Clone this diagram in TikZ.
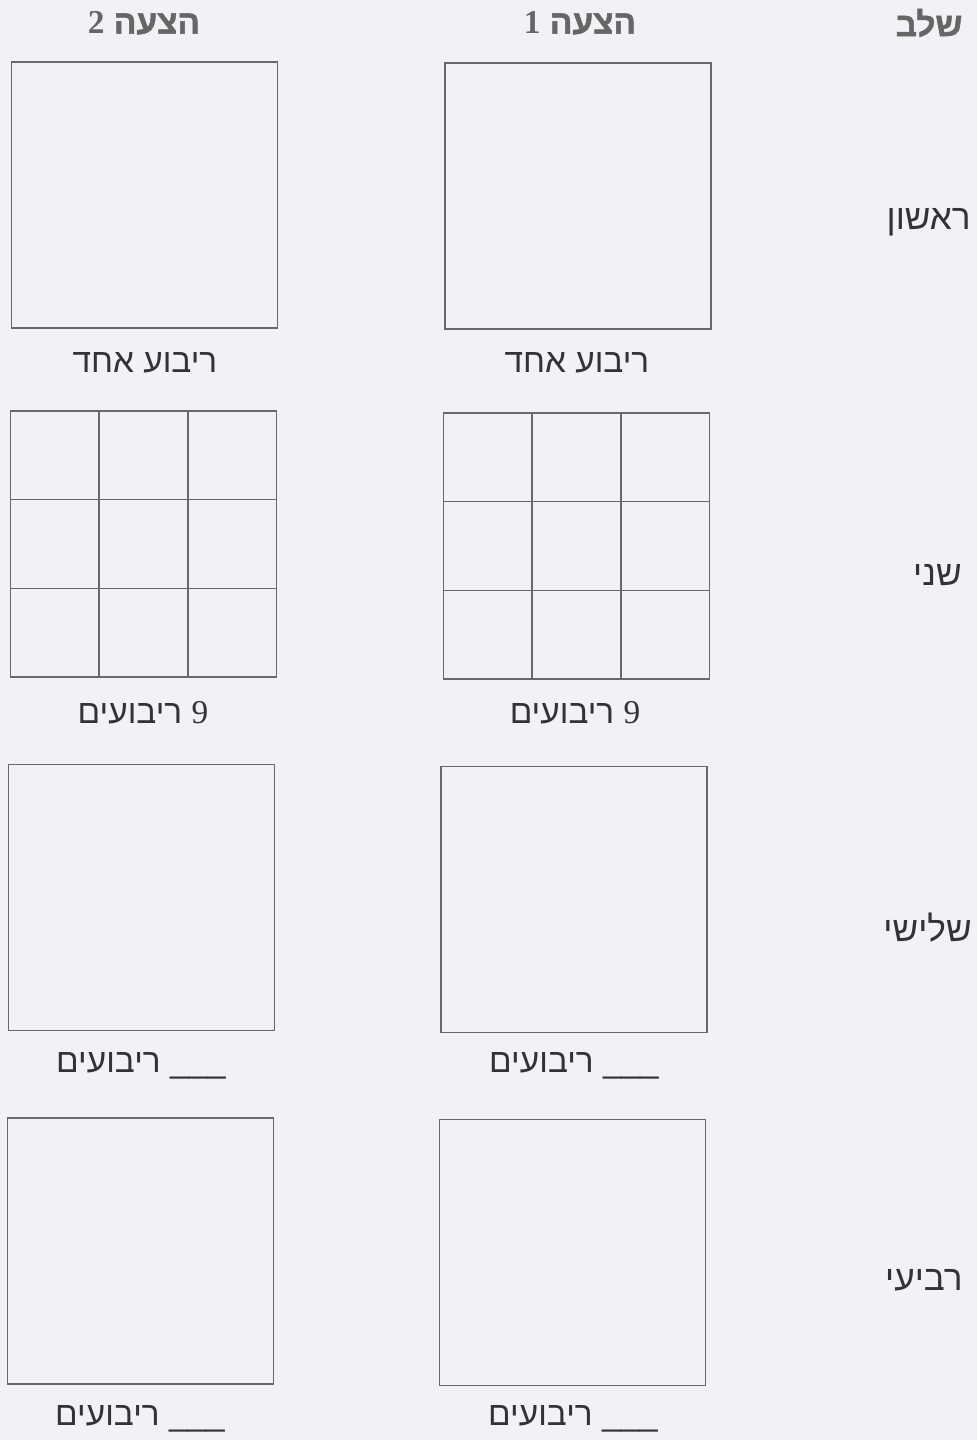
\documentclass[tikz,border=0pt]{standalone}
\usepackage{fontspec}
\setmainfont{Liberation Sans}
\newfontfamily\hebfont[Script=Hebrew]{Liberation Sans}
\newfontfamily\headfont[Script=Hebrew,FakeBold=1.5]{Liberation Sans}
\newfontfamily\numfont{Liberation Serif}
\TeXXeTstate=1
\usetikzlibrary{calc}
\definecolor{paper}{RGB}{242,241,245}
\definecolor{ink}{RGB}{50,50,55}
\definecolor{frame}{RGB}{105,105,108}
\newcommand{\heb}[1]{\hebfont\beginR #1\endR}
\newcommand{\hhead}[1]{\headfont\beginR #1\endR}

\begin{document}
\begin{tikzpicture}[x=0.02cm,y=-0.02cm,
lbl/.style={font=\fontsize{19}{22}\selectfont,text=ink,inner sep=0pt},
rowname/.style={font=\fontsize{20}{23}\selectfont,text=ink,inner sep=0pt,anchor=east},
head/.style={font=\fontsize{19}{22}\selectfont\bfseries,text=black!60,inner sep=0pt},
sq/.style={draw=frame,line width=0.9pt,minimum size=5.32cm,inner sep=0pt},
gridline/.style={draw=frame,line width=0.7pt}]
\fill[paper] (0,0) rectangle (977,1440);
\useasboundingbox (0,0) rectangle (977,1440);
% column heads
\node[head] (stage) at (929,23) {\hhead{שלב}};
\node[head] (prop1) at (580,23) {\hhead{הצעה {\numfont 1}}};
\node[head] (prop2) at (144,23) {\hhead{הצעה {\numfont 2}}};
% row names
\node[rowname] (first) at (971,222) {\heb{ראשון}};
\node[rowname] (second) at (962,575) {\heb{שני}};
\node[rowname] (third) at (972,928) {\heb{שלישי}};
\node[rowname] (fourth) at (963,1280) {\heb{רביעי}};
% squares
\node[sq] (b11) at (578,196) {};
\node[sq] (b12) at (144.5,195) {};
\node[sq] (b21) at (576.5,546) {};
\node[sq] (b22) at (143.5,544) {};
\node[sq] (b31) at (574,899.5) {};
\node[sq] (b32) at (141.5,897.5) {};
\node[sq] (b41) at (572.5,1252.5) {};
\node[sq] (b42) at (140.5,1251) {};
\foreach \g in {b21,b22}{
  \foreach \t in {1/3,2/3}{
    \draw[gridline] ($(\g.north west)!\t!(\g.north east)$) -- ($(\g.south west)!\t!(\g.south east)$);
    \draw[gridline] ($(\g.north west)!\t!(\g.south west)$) -- ($(\g.north east)!\t!(\g.south east)$);
  }
}
% counts under the squares
\node[lbl] (n11) at (577,363) {\heb{ריבוע אחד}};
\node[lbl] (n12) at (145,363) {\heb{ריבוע אחד}};
\node[lbl] (n21) at (575,713) {\heb{{\numfont 9} ריבועים}};
\node[lbl] (n22) at (143,713) {\heb{{\numfont 9} ריבועים}};
\node[lbl] (n31) at (574,1066) {\heb{\_\_\_ ריבועים}};
\node[lbl] (n32) at (141,1066) {\heb{\_\_\_ ריבועים}};
\node[lbl] (n41) at (573,1419) {\heb{\_\_\_ ריבועים}};
\node[lbl] (n42) at (140,1419) {\heb{\_\_\_ ריבועים}};
\end{tikzpicture}
\end{document}
